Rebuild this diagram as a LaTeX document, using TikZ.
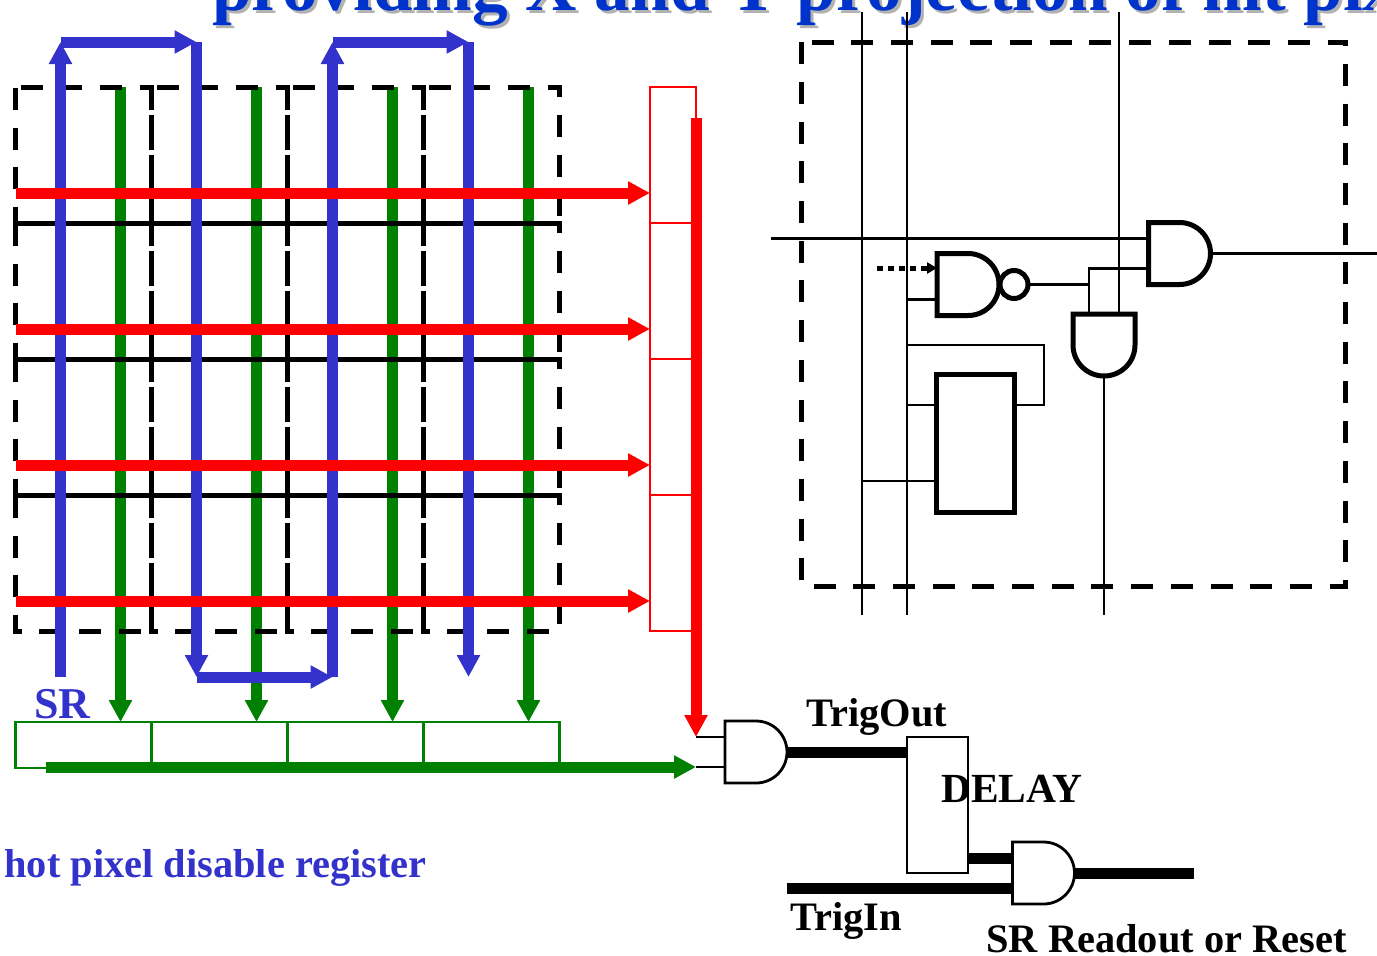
\documentclass[tikz,border=0pt]{standalone}
\usepackage{fontspec}
\setmainfont{Liberation Serif}
\usetikzlibrary{arrows.meta}
\definecolor{srblue}{RGB}{51,51,204}
\definecolor{titleblue}{RGB}{0,51,204}
\definecolor{shadowgrey}{RGB}{178,178,178}
\definecolor{regiongreen}{RGB}{0,128,0}
\newcommand{\pixelcell}[2]{
  \node[pixel node] (#1) at #2 {};
  \draw[dashline,dash phase=17.35pt] (#1.north west) -- (#1.north east)
    -- (#1.south east) -- (#1.south west) -- cycle;
}
\newcommand{\andgate}[3]{
  \begin{scope}[shift={#2},rotate=#3]
    \node[gate node] (#1) at (0,0) {};
    \coordinate (#1 in1) at (-31,-15);
    \coordinate (#1 in2) at (-31,15);
    \coordinate (#1 out) at (31,0);
    \draw[gate line] (-31,-31) -- (0,-31) arc (90:-90:15.5pt) -- (-31,31) -- cycle;
  \end{scope}
}

\begin{document}
\begin{tikzpicture}[x=.5pt,y=-.5pt,>={Triangle[length=11pt,width=11pt]},
  dashline/.style={line width=2.5pt,dash pattern=on 11pt off 8.85pt},
  pixel node/.style={rectangle,inner sep=0pt,outer sep=0pt,minimum width=68pt,minimum height=68pt},
  red node/.style={draw=red,rectangle,line width=1.4pt,inner sep=0pt,outer sep=0pt,
    minimum width=23pt,minimum height=68pt},
  reg node/.style={draw=regiongreen,rectangle,line width=1.4pt,inner sep=0pt,outer sep=0pt,
    minimum width=68pt,minimum height=23pt},
  gate node/.style={rectangle,inner sep=0pt,outer sep=0pt,minimum width=31pt,minimum height=31pt},
  gate line/.style={draw,line width=1.4pt},
  fat/.style={line width=5.5pt},
  wire/.style={line width=1.4pt},
  label/.style={font=\fontsize{20.2}{20}\selectfont\bfseries,inner sep=0pt,anchor=base west}]
  \useasboundingbox (0,0) rectangle (1377,955);

  % title, cut off by the page
  \node[label,font=\fontsize{35.6}{36}\selectfont\bfseries,text=shadowgrey] (title shadow) at (215,13)
    {providing X and Y projection of hit pixels};
  \node[label,font=\fontsize{35.6}{36}\selectfont\bfseries,text=titleblue] (title) at (212,10)
    {providing X and Y projection of hit pixels};

  % green read lines, under the grid
  \coordinate (g1) at (120.5,87);
  \coordinate (g2) at (256.5,87);
  \coordinate (g3) at (392.5,87);
  \coordinate (g4) at (528.5,87);

  % disable register
  \node[reg node] (reg1) at (83.5,745) {};
  \node[reg node] (reg2) at (219.5,745) {};
  \node[reg node] (reg3) at (355.5,745) {};
  \node[reg node] (reg4) at (491.5,745) {};

  \path[->,regiongreen,fat]
    (g1) edge (g1 |- reg1.north)
    (g2) edge (g2 |- reg2.north)
    (g3) edge (g3 |- reg3.north)
    (g4) edge (g4 |- reg4.north);

  % pixel grid
  \pixelcell{p11}{(83.5,155)}
  \pixelcell{p12}{(219.5,155)}
  \pixelcell{p13}{(355.5,155)}
  \pixelcell{p14}{(491.5,155)}
  \pixelcell{p21}{(83.5,291)}
  \pixelcell{p22}{(219.5,291)}
  \pixelcell{p23}{(355.5,291)}
  \pixelcell{p24}{(491.5,291)}
  \pixelcell{p31}{(83.5,427)}
  \pixelcell{p32}{(219.5,427)}
  \pixelcell{p33}{(355.5,427)}
  \pixelcell{p34}{(491.5,427)}
  \pixelcell{p41}{(83.5,563)}
  \pixelcell{p42}{(219.5,563)}
  \pixelcell{p43}{(355.5,563)}
  \pixelcell{p44}{(491.5,563)}

  % shift register chain
  \coordinate (s0) at (60.5,677);
  \coordinate (s1) at (60.5,42);
  \coordinate (s2) at (196.5,42);
  \coordinate (s3) at (196.5,677);
  \coordinate (s4) at (332.5,677);
  \coordinate (s5) at (332.5,42);
  \coordinate (s6) at (468.5,42);
  \coordinate (s7) at (468.5,677);

  \path[->,srblue,fat]
    (s0) edge (s1)
    (s1) edge (s2)
    (s2) edge (s3)
    (s3) edge (s4)
    (s4) edge (s5)
    (s5) edge (s6)
    (s6) edge (s7);

  % projection column
  \node[red node] (col1) at (673,155) {};
  \node[red node] (col2) at (673,291) {};
  \node[red node] (col3) at (673,427) {};
  \node[red node] (col4) at (673,563) {};

  \coordinate (r1) at (15.5,193);
  \coordinate (r2) at (15.5,329);
  \coordinate (r3) at (15.5,465);
  \coordinate (r4) at (15.5,601);

  \path[->,red,fat]
    (r1) edge (r1 -| col1.west)
    (r2) edge (r2 -| col2.west)
    (r3) edge (r3 -| col3.west)
    (r4) edge (r4 -| col4.west);

  % first trigger gate
  \andgate{trig and}{(756,752)}{0}
  \coordinate (orin) at (696,737);
  \coordinate (andin) at (696,767);
  \coordinate (ortop) at (696,118);
  \coordinate (regout) at (46,767);

  \path[->,red,fat] (ortop) edge (orin);
  \path[->,regiongreen,fat] (regout) edge (andin);
  \draw[wire] (orin) -- (trig and in1);
  \draw[wire] (andin) -- (trig and in2);

  \node[draw,rectangle,line width=1.4pt,inner sep=0pt,outer sep=0pt,
    minimum width=30.5pt,minimum height=68pt] (delay) at (937.5,805) {};
  \andgate{read and}{(1043.5,873)}{0}
  \coordinate (trigin) at (787,888);
  \coordinate (readout) at (1194,873);

  \draw[fat] (trig and out) -- (trig and out -| delay.west);
  \draw[fat] (read and in1 -| delay.east) -- (read and in1);
  \draw[fat] (trigin) -- (read and in2);
  \draw[fat] (read and out) -- (readout);

  % pixel detail
  \node[rectangle,inner sep=0pt,outer sep=0pt,minimum width=272pt,minimum height=272pt] (cell) at (1073.5,314) {};
  \draw[dashline,dash phase=14.85pt] (cell.north west) -- (cell.north east)
    -- (cell.south east) -- (cell.south west) -- cycle;

  \tikzset{gate line/.style={draw,line width=2.5pt}}
  \andgate{out and}{(1179.5,253.5)}{0}
  \andgate{mask nand}{(968,284.5)}{0}
  \andgate{sel and}{(1104,345)}{-90}
  \node[draw,circle,line width=2.5pt,inner sep=0pt,outer sep=0pt,
    minimum size=14pt] (mask bubble) at (1014,284.5) {};
  \node[draw,rectangle,line width=2.5pt,inner sep=0pt,outer sep=0pt,
    minimum width=39pt,minimum height=69pt] (latch) at (975.5,443) {};

  \coordinate (xa) at (862,12);
  \coordinate (xb) at (862,615);
  \coordinate (ya) at (907,12);
  \coordinate (yb) at (907,615);
  \coordinate (za) at (1119,12);
  \coordinate (zb) at (1104,615);
  \coordinate (hleft) at (771,238.5);
  \coordinate (hright) at (1377,253.5);
  \coordinate (dot) at (877,268);
  \coordinate (elbow) at (1044,345);
  \coordinate (yin) at (907,405);
  \coordinate (xin) at (862,481);

  \draw[wire] (xa) -- (xb);
  \draw[wire] (ya) -- (yb);
  \draw[wire] (za) -- (sel and in1);
  \draw[wire] (hleft) -- (out and in1);
  \draw[wire] (out and out) -- (hright);
  \draw[wire] (sel and out) -- (zb);
  \draw[wire] (mask bubble.east) -- (sel and in2 |- mask bubble.east);
  \draw[wire] (sel and in2) |- (out and in2);
  \draw[wire] (ya |- mask nand in2) -- (mask nand in2);
  \draw[wire] (ya |- elbow) -- (elbow) |- (latch.east |- yin);
  \draw[wire] (yin) -- (latch.west |- yin);
  \draw[wire] (xin) -- (latch.west |- xin);
  \draw[-{Triangle[length=5pt,width=5.5pt]},line width=2.5pt,dash pattern=on 3pt off 2.5pt]
    (dot) -- (dot -| mask nand in1);

  % labels
  \node[label,font=\fontsize{22}{22}\selectfont\bfseries,text=srblue] (sr label) at (34,718) {SR};
  \node[label,text=srblue] (hot label) at (4,877) {hot pixel disable register};
  \node[label] (trigout label) at (806,726) {TrigOut};
  \node[label,font=\fontsize{20.7}{20}\selectfont\bfseries] (delay label) at (941,802) {DELAY};
  \node[label] (trigin label) at (790,930) {TrigIn};
  \node[label] (readout label) at (986,952) {SR Readout or Reset};
\end{tikzpicture}
\end{document}
